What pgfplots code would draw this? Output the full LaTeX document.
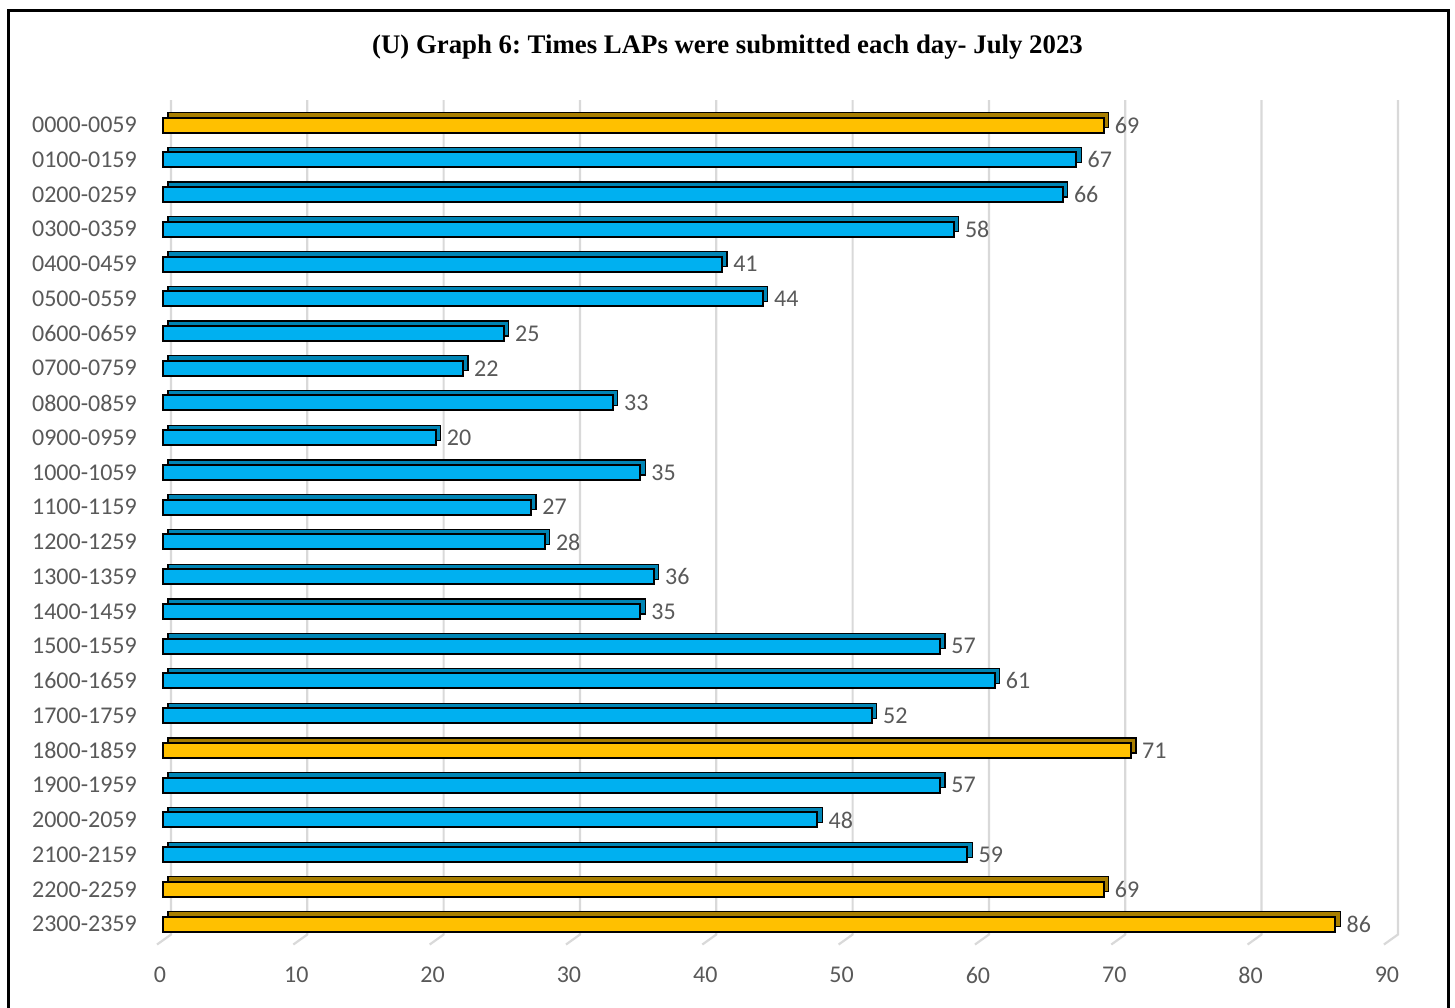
\documentclass[border=0pt]{standalone}
\usepackage{pgfplots}
\pgfplotsset{compat=1.18}
\usepackage{fontspec}
\setmainfont{Carlito}
\newfontfamily\titlefont{Liberation Serif}
\definecolor{barblue}{HTML}{00B0F0}
\definecolor{barblueD}{HTML}{0085B5}
\definecolor{bargold}{HTML}{FFC000}
\definecolor{bargoldD}{HTML}{A87E00}
\definecolor{gridc}{HTML}{D9D9D9}
\definecolor{labgrey}{HTML}{595959}
\begin{document}
\frenchspacing
\begin{tikzpicture}
\useasboundingbox (0,0) rectangle (1455pt,-1007pt);
\draw[line width=3pt] (8pt,-10pt) rectangle (1448pt,-1015pt);
\node[font=\titlefont\bfseries\fontsize{26.8}{30}\selectfont] at (727.5pt,-47pt) {(U) Graph 6: Times LAPs were submitted each day- July 2023};
\begin{axis}[
  at={(163pt,-930pt)}, anchor=south west,
  scale only axis, width=1227pt, height=830pt,
  xmin=0, xmax=90, ymin=-0.72, ymax=23.17,
  y dir=reverse,
  axis line style={draw=none},
  major tick length=0pt,
  clip=false,
  xtick={0,10,...,90},
  ytick={0,...,23},
  yticklabels={0000-0059,0100-0159,0200-0259,0300-0359,0400-0459,0500-0559,0600-0659,0700-0759,0800-0859,0900-0959,1000-1059,1100-1159,1200-1259,1300-1359,1400-1459,1500-1559,1600-1659,1700-1759,1800-1859,1900-1959,2000-2059,2100-2159,2200-2259,2300-2359},
  ticklabel style={font=\fontsize{24}{28}\selectfont, text=labgrey},
  yticklabel style={anchor=east, inner sep=0pt, xshift=-26pt},
  xticklabel style={anchor=center, inner sep=0pt, yshift=-45pt, xshift=-3pt},
  /pgf/number format/assume math mode=true,
  xbar, bar width=15pt, bar shift=0pt,
]
\pgfplotsinvokeforeach{0,10,...,90}{
  \draw[gridc, line width=2.2pt] ([xshift=8pt]axis cs:#1,-0.72) -- ([xshift=8pt]axis cs:#1,23.3) -- ([xshift=-6pt,yshift=-10pt]axis cs:#1,23.3);
}
% shadow (3D depth) bars
\addplot[xbar, fill=barblueD, draw=black, line width=1.2pt, xshift=5pt, yshift=5pt] coordinates {
(67,1) (66,2) (58,3) (41,4) (44,5) (25,6) (22,7) (33,8) (20,9) (35,10) (27,11) (28,12) (36,13) (35,14) (57,15) (61,16) (52,17) (57,19) (48,20) (59,21)};
\addplot[xbar, fill=bargoldD, draw=black, line width=1.2pt, xshift=5pt, yshift=5pt] coordinates {
(69,0) (71,18) (69,22) (86,23)};
% front bars
\addplot[xbar, fill=barblue, draw=black, line width=2pt,
  nodes near coords, every node near coord/.append style={anchor=west, xshift=7pt, font=\fontsize{24}{28}\selectfont, text=labgrey}] coordinates {
(67,1) (66,2) (58,3) (41,4) (44,5) (25,6) (22,7) (33,8) (20,9) (35,10) (27,11) (28,12) (36,13) (35,14) (57,15) (61,16) (52,17) (57,19) (48,20) (59,21)};
\addplot[xbar, fill=bargold, draw=black, line width=2pt,
  nodes near coords, every node near coord/.append style={anchor=west, xshift=7pt, font=\fontsize{24}{28}\selectfont, text=labgrey}] coordinates {
(69,0) (71,18) (69,22) (86,23)};
\end{axis}
\end{tikzpicture}
\end{document}
